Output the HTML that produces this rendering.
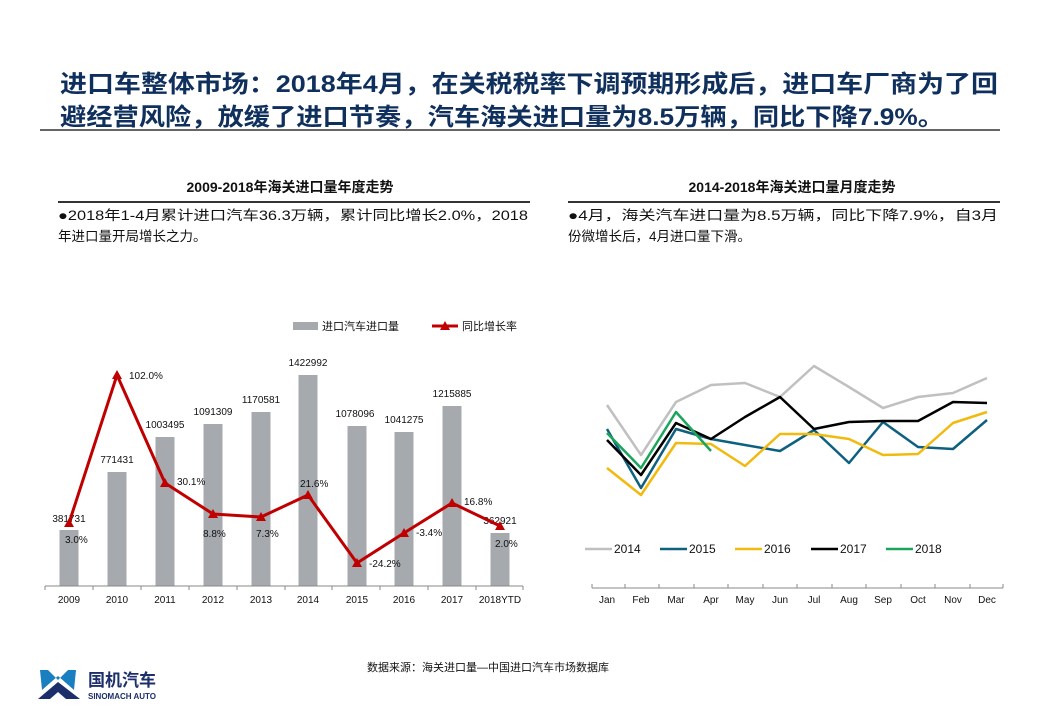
<!DOCTYPE html>
<html><head><meta charset="utf-8"><style>
body{margin:0;background:#fff;}
svg text{font-family:"Liberation Sans","Noto Sans CJK SC",sans-serif;}
</style></head><body>
<svg width="1040" height="720" viewBox="0 0 1040 720" xmlns="http://www.w3.org/2000/svg">
<rect width="1040" height="720" fill="#fff"/>
<text x="60" y="92" font-size="24" font-weight="bold" fill="#0f2f5c" textLength="938" lengthAdjust="spacingAndGlyphs">进口车整体市场：2018年4月，在关税税率下调预期形成后，进口车厂商为了回</text>
<text x="60" y="125" font-size="24" font-weight="bold" fill="#0f2f5c" textLength="884" lengthAdjust="spacingAndGlyphs">避经营风险，放缓了进口节奏，汽车海关进口量为8.5万辆，同比下降7.9%。</text>
<line x1="40" y1="130" x2="1000" y2="130" stroke="#333" stroke-width="1.5"/>

<text x="290" y="192" font-size="14" font-weight="bold" text-anchor="middle" fill="#111">2009-2018年海关进口量年度走势</text>
<line x1="58" y1="202" x2="530" y2="202" stroke="#333" stroke-width="2"/>
<text x="58" y="220" font-size="13.5" fill="#111" textLength="470" lengthAdjust="spacingAndGlyphs">●2018年1-4月累计进口汽车36.3万辆，累计同比增长2.0%，2018</text>
<text x="58" y="241" font-size="13.5" fill="#111">年进口量开局增长之力。</text>

<text x="792" y="192" font-size="14" font-weight="bold" text-anchor="middle" fill="#111">2014-2018年海关进口量月度走势</text>
<line x1="568" y1="202" x2="1000" y2="202" stroke="#333" stroke-width="2"/>
<text x="568" y="220" font-size="13.5" fill="#111" textLength="430" lengthAdjust="spacingAndGlyphs">●4月，海关汽车进口量为8.5万辆，同比下降7.9%，自3月</text>
<text x="568" y="241" font-size="13.5" fill="#111">份微增长后，4月进口量下滑。</text>

<!-- bar chart legend -->
<rect x="293" y="322" width="25" height="8" fill="#a6a9ad"/>
<text x="322" y="330" font-size="11" fill="#111">进口汽车进口量</text>
<line x1="432" y1="326" x2="458" y2="326" stroke="#c00000" stroke-width="3"/>
<polygon points="445,321 450,330 440,330" fill="#c00000"/>
<text x="462" y="330" font-size="11" fill="#111">同比增长率</text>

<g fill="#a6a9ad">
<rect x="59.5" y="530" width="19" height="56"/>
<rect x="107.5" y="472" width="19" height="114"/>
<rect x="155.5" y="437" width="19" height="149"/>
<rect x="203.5" y="424" width="19" height="162"/>
<rect x="251.5" y="412" width="19" height="174"/>
<rect x="298.5" y="375" width="19" height="211"/>
<rect x="347.5" y="426" width="19" height="160"/>
<rect x="394.5" y="432" width="19" height="154"/>
<rect x="442.5" y="406" width="19" height="180"/>
<rect x="490.5" y="533" width="19" height="53"/>
</g>
<line x1="45" y1="586" x2="523" y2="586" stroke="#888"/>
<g stroke="#888"><line x1="45" y1="586" x2="45" y2="590"/><line x1="93" y1="586" x2="93" y2="590"/><line x1="141" y1="586" x2="141" y2="590"/><line x1="189" y1="586" x2="189" y2="590"/><line x1="237" y1="586" x2="237" y2="590"/><line x1="285" y1="586" x2="285" y2="590"/><line x1="332" y1="586" x2="332" y2="590"/><line x1="380" y1="586" x2="380" y2="590"/><line x1="428" y1="586" x2="428" y2="590"/><line x1="476" y1="586" x2="476" y2="590"/><line x1="523" y1="586" x2="523" y2="590"/></g>
<g font-size="10" fill="#111" text-anchor="middle">
<text x="69" y="603">2009</text><text x="117" y="603">2010</text><text x="165" y="603">2011</text><text x="213" y="603">2012</text><text x="261" y="603">2013</text><text x="308" y="603">2014</text><text x="357" y="603">2015</text><text x="404" y="603">2016</text><text x="452" y="603">2017</text><text x="500" y="603">2018YTD</text>
<text x="69" y="522">381731</text><text x="117" y="463">771431</text><text x="165" y="428">1003495</text><text x="213" y="415">1091309</text><text x="261" y="403">1170581</text><text x="308" y="366">1422992</text><text x="355" y="417">1078096</text><text x="404" y="423">1041275</text><text x="452" y="397">1215885</text><text x="500" y="524">362921</text>
</g>
<polyline points="69,523 117,375 165,483 213,514 261,517 308,495 357,563 404,533 452,503 500,526" fill="none" stroke="#c00000" stroke-width="3" stroke-linejoin="round"/>
<g fill="#c00000">
<polygon points="69,518 74,527 64,527"/><polygon points="117,370 122,379 112,379"/><polygon points="165,478 170,487 160,487"/><polygon points="213,509 218,518 208,518"/><polygon points="261,512 266,521 256,521"/><polygon points="308,490 313,499 303,499"/><polygon points="357,558 362,567 352,567"/><polygon points="404,528 409,537 399,537"/><polygon points="452,498 457,507 447,507"/><polygon points="500,521 505,530 495,530"/>
</g>
<g font-size="10" fill="#111">
<text x="65" y="543">3.0%</text><text x="129" y="379">102.0%</text><text x="177" y="485">30.1%</text><text x="203" y="537">8.8%</text><text x="256" y="537">7.3%</text><text x="300" y="487">21.6%</text><text x="369" y="567">-24.2%</text><text x="416" y="536">-3.4%</text><text x="464" y="505">16.8%</text><text x="495" y="547">2.0%</text>
</g>

<!-- line chart -->
<g fill="none" stroke-width="2.5" stroke-linejoin="round">
<polyline stroke="#c0c0c0" points="607,405 641,455 676,402 711,385 745,383 780,397 814,366 849,387 883,408 918,397 953,393 987,378"/>
<polyline stroke="#0e6080" points="607,429 641,488 676,429 711,439 745,445 780,451 814,430 849,463 883,422 918,447 953,449 987,420"/>
<polyline stroke="#f2b90f" points="607,468 641,495 676,443 711,444 745,466 780,434 814,434 849,439 883,455 918,454 953,423 987,412"/>
<polyline stroke="#000" points="607,440 641,475 676,423 711,439 745,417 780,397 814,429 849,422 883,421 918,421 953,402 987,403"/>
<polyline stroke="#1aa55a" points="607,433 641,468 676,412 711,451"/>
</g>
<g stroke-width="2.5">
<line x1="585" y1="549" x2="612" y2="549" stroke="#c0c0c0"/>
<line x1="660" y1="549" x2="687" y2="549" stroke="#0e6080"/>
<line x1="735" y1="549" x2="762" y2="549" stroke="#f2b90f"/>
<line x1="811" y1="549" x2="838" y2="549" stroke="#000"/>
<line x1="886" y1="549" x2="913" y2="549" stroke="#1aa55a"/>
</g>
<g font-size="12" fill="#111">
<text x="614" y="553">2014</text><text x="689" y="553">2015</text><text x="764" y="553">2016</text><text x="840" y="553">2017</text><text x="915" y="553">2018</text>
</g>
<line x1="592" y1="588" x2="1003" y2="588" stroke="#888"/>
<g stroke="#888"><line x1="592" y1="584" x2="592" y2="588"/><line x1="625" y1="584" x2="625" y2="588"/><line x1="659" y1="584" x2="659" y2="588"/><line x1="694" y1="584" x2="694" y2="588"/><line x1="728" y1="584" x2="728" y2="588"/><line x1="763" y1="584" x2="763" y2="588"/><line x1="797" y1="584" x2="797" y2="588"/><line x1="832" y1="584" x2="832" y2="588"/><line x1="866" y1="584" x2="866" y2="588"/><line x1="901" y1="584" x2="901" y2="588"/><line x1="935" y1="584" x2="935" y2="588"/><line x1="970" y1="584" x2="970" y2="588"/><line x1="1003" y1="584" x2="1003" y2="588"/></g>
<g font-size="10" fill="#111" text-anchor="middle">
<text x="607" y="603">Jan</text><text x="641" y="603">Feb</text><text x="676" y="603">Mar</text><text x="711" y="603">Apr</text><text x="745" y="603">May</text><text x="780" y="603">Jun</text><text x="814" y="603">Jul</text><text x="849" y="603">Aug</text><text x="883" y="603">Sep</text><text x="918" y="603">Oct</text><text x="953" y="603">Nov</text><text x="987" y="603">Dec</text>
</g>

<text x="367" y="671" font-size="11" fill="#111">数据来源：海关进口量—中国进口汽车市场数据库</text>

<!-- logo -->
<polygon points="40,670 48,670 58,680 68,670 76,670 74,690 58,676 42,690" fill="#1a7fc1"/>
<polygon points="38,699 58,682 80,699" fill="#1d2f6b"/>
<polygon points="50,699 58,692 66,699" fill="#fff"/>
<text x="88" y="686" font-size="17" font-weight="bold" fill="#1d2f6b">国机汽车</text>
<text x="88" y="699" font-size="8" font-weight="bold" fill="#1d2f6b">SINOMACH AUTO</text>
</svg>
</body></html>
